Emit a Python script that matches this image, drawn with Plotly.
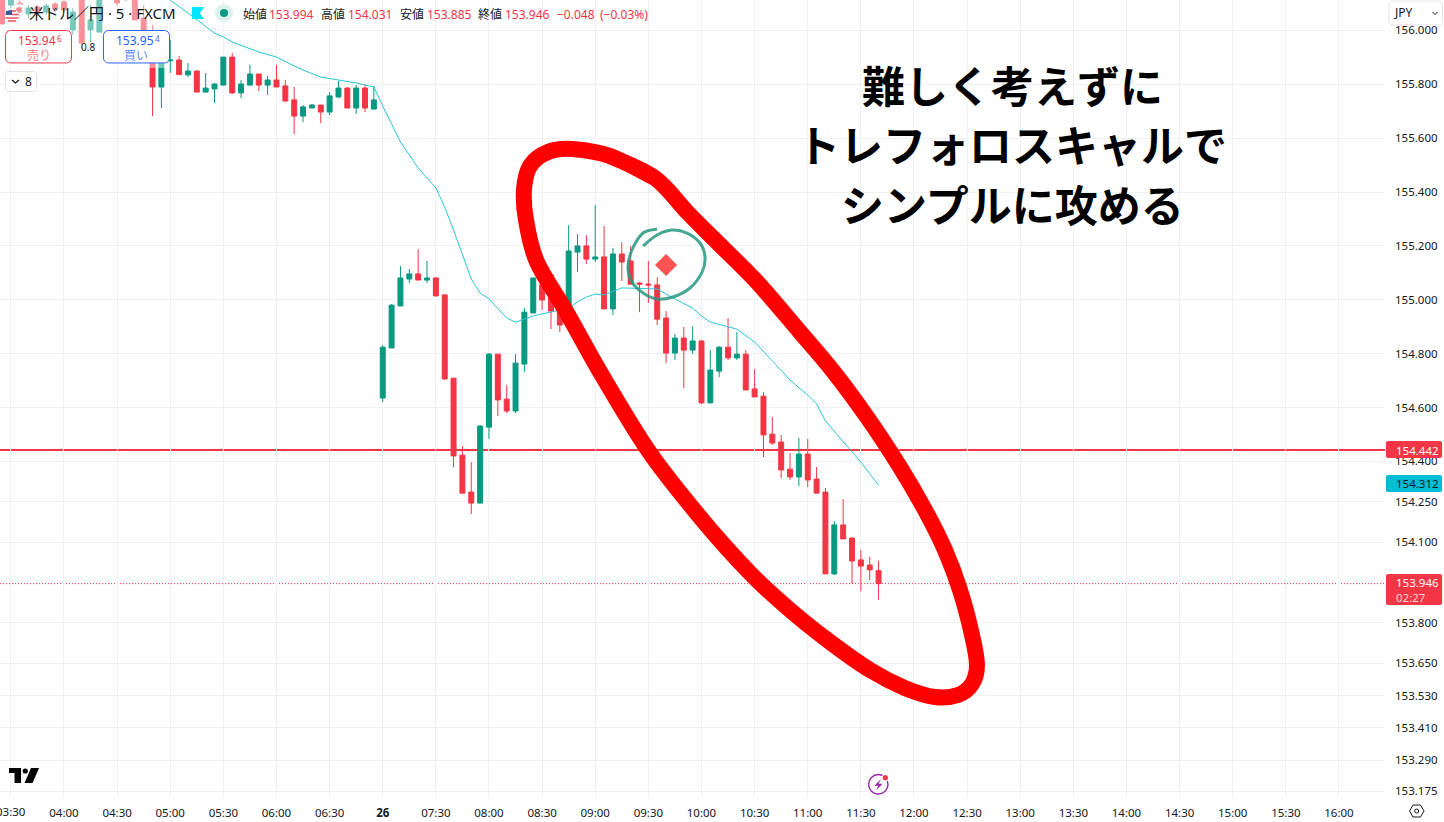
import pandas as pd
import plotly.graph_objects as go

DAY = "2024-07-26 "

# candles, 5 min bars from 03:25 to 11:40
opens = [156.150, 156.094, 156.102, 156.061, 156.087, 156.068, 156.098,
         156.106, 156.002, 156.132, 156.002, 155.994, 156.158, 156.150, 156.124, 156.124, 156.046, 155.927, 155.790,
         155.887, 155.890, 155.835, 155.849, 155.771, 155.783, 155.797, 155.901, 155.768, 155.797, 155.838, 155.797,
         155.816, 155.794, 155.742, 155.682, 155.712, 155.723, 155.697, 155.753, 155.786, 155.712, 155.786, 155.708,
         154.635, 154.821, 154.977, 155.077, 155.096, 155.073, 155.081, 155.018, 154.709, 154.423, 154.286, 154.245,
         154.527, 154.798, 154.631, 154.587, 154.761, 154.951, 155.055, 155.092, 154.999, 154.936, 155.177, 155.200,
         155.151, 155.159, 154.966, 155.170, 155.144, 155.062, 155.058, 155.055, 154.932, 154.802, 154.858, 154.813,
         154.847, 154.617, 154.735, 154.824, 154.784, 154.798, 154.669, 154.642, 154.501, 154.472, 154.371, 154.342,
         154.427, 154.334, 154.286, 153.982, 154.164, 154.115, 154.034, 154.015, 153.994]
highs = [156.187, 156.187, 156.113, 156.094, 156.094, 156.098, 156.106,
         156.113, 156.083, 156.187, 156.094, 156.187, 156.169, 156.169, 156.169, 156.143, 156.094, 156.020, 155.983,
         155.964, 155.905, 155.879, 155.853, 155.842, 155.805, 155.901, 155.916, 155.816, 155.872, 155.838, 155.831,
         155.872, 155.816, 155.790, 155.723, 155.727, 155.723, 155.771, 155.812, 155.790, 155.797, 155.801, 155.794,
         154.832, 154.984, 155.125, 155.114, 155.188, 155.144, 155.084, 155.021, 154.709, 154.457, 154.397, 154.535,
         154.802, 154.798, 154.683, 154.798, 154.969, 155.081, 155.073, 155.092, 155.036, 155.277, 155.244, 155.240,
         155.352, 155.274, 155.192, 155.214, 155.200, 155.066, 155.144, 155.084, 154.958, 154.873, 154.899, 154.902,
         154.850, 154.813, 154.828, 154.932, 154.880, 154.813, 154.743, 154.657, 154.565, 154.498, 154.431, 154.487,
         154.483, 154.379, 154.301, 154.178, 154.260, 154.119, 154.071, 154.045, 154.031]
lows = [156.024, 156.083, 156.061, 156.046, 156.054, 156.057, 156.068,
        156.068, 155.983, 155.931, 155.957, 155.994, 156.120, 156.091, 156.109, 156.039, 155.994, 155.682, 155.712,
        155.842, 155.836, 155.827, 155.771, 155.771, 155.731, 155.797, 155.764, 155.749, 155.797, 155.775, 155.760,
        155.790, 155.734, 155.615, 155.660, 155.712, 155.656, 155.686, 155.749, 155.712, 155.690, 155.697, 155.708,
        154.620, 154.821, 154.977, 155.062, 155.073, 155.062, 155.014, 154.702, 154.379, 154.282, 154.204, 154.245,
        154.483, 154.568, 154.579, 154.579, 154.732, 154.951, 154.962, 154.891, 154.880, 154.917, 155.103, 155.133,
        155.140, 154.966, 154.943, 155.070, 155.058, 154.954, 154.988, 154.906, 154.765, 154.776, 154.672, 154.798,
        154.613, 154.617, 154.713, 154.776, 154.776, 154.665, 154.639, 154.416, 154.461, 154.338, 154.331, 154.308,
        154.305, 154.282, 153.982, 153.978, 154.112, 153.944, 153.918, 153.959, 153.885]
closes = [156.024, 156.169, 156.076, 156.083, 156.065, 156.091, 156.080,
          156.076, 156.068, 155.953, 156.039, 156.132, 156.132, 156.102, 156.150, 156.039, 156.002, 155.790, 155.946,
          155.890, 155.836, 155.849, 155.771, 155.786, 155.801, 155.901, 155.768, 155.801, 155.838, 155.797, 155.816,
          155.790, 155.738, 155.682, 155.716, 155.723, 155.697, 155.757, 155.786, 155.712, 155.786, 155.712, 155.742,
          154.824, 154.980, 155.081, 155.096, 155.073, 155.081, 155.014, 154.706, 154.420, 154.282, 154.245, 154.531,
          154.798, 154.628, 154.587, 154.765, 154.954, 155.081, 154.999, 154.958, 154.906, 155.181, 155.200, 155.151,
          155.159, 154.966, 155.170, 155.140, 155.058, 155.058, 155.055, 154.928, 154.802, 154.858, 154.813, 154.847,
          154.617, 154.739, 154.824, 154.784, 154.798, 154.665, 154.639, 154.498, 154.468, 154.368, 154.342, 154.427,
          154.331, 154.282, 153.982, 154.164, 154.112, 154.030, 154.011, 153.997, 153.946]

# moving average, read at some bars only
ma_times = ["04:55", "05:00", "05:10", "05:15", "05:25", "05:30", "05:35", "05:50", "06:00", "06:10", "06:15",
            "06:25", "06:35", "06:45", "06:55", "07:00", "07:10", "07:20", "07:30", "07:35", "07:40", "07:45",
            "07:50", "07:55", "08:00", "08:10", "08:15", "08:25", "08:35", "08:45", "08:50", "08:55", "09:00",
            "09:05", "09:15", "09:35", "09:45", "09:55", "10:00", "10:05", "10:20", "10:30", "10:40", "10:50",
            "11:00", "11:05", "11:10", "11:20", "11:30", "11:40"]
ma_values = [156.143, 156.113, 156.065, 156.039, 155.990, 155.976, 155.957, 155.920, 155.901, 155.868, 155.853,
             155.827, 155.816, 155.805, 155.790, 155.719, 155.586, 155.489, 155.415, 155.344, 155.259, 155.166,
             155.077, 155.025, 155.003, 154.932, 154.917, 154.940, 154.954, 154.969, 154.992, 155.010, 155.021,
             155.018, 155.044, 155.040, 155.003, 154.969, 154.940, 154.917, 154.891, 154.843, 154.773, 154.702,
             154.646, 154.613, 154.550, 154.475, 154.397, 154.312]

y_ticks = [156.0, 155.8, 155.6, 155.4, 155.2, 155.0, 154.8, 154.6, 154.4, 154.25, 154.1,
           153.8, 153.65, 153.53, 153.41, 153.29, 153.175]
x_ticks = ["03:30", "04:00", "04:30", "05:00", "05:30", "06:00", "06:30", "07:00", "07:30", "08:00", "08:30",
           "09:00", "09:30", "10:00", "10:30", "11:00", "11:30", "12:00", "12:30", "13:00", "13:30", "14:00",
           "14:30", "15:00", "15:30", "16:00"]
x_labels = ["<b>26</b>" if t == "07:00" else t for t in x_ticks]

line_price = 154.442
ma_last = 154.312
last_price = 153.946
signal_time = "09:40"
signal_price = 155.129

RED = "#f23645"
GREEN = "#089981"
BLUE = "#2962ff"
INK = "#131722"
GRID = "#f0f1f3"
FONT = "'Noto Sans', 'Noto Sans CJK JP', sans-serif"
JP_BOLD = "'Noto Sans CJK JP', sans-serif"

PLOT_W = 1385
PLOT_H = 798


def px(x):
    return x / PLOT_W


def py(y):
    return 1 - y / PLOT_H


def smooth_path(points):
    # catmull-rom through the hand traced points
    d = "M%.4f,%.4f" % (px(points[0][0]), py(points[0][1]))
    for i in range(len(points) - 1):
        p0 = points[max(i - 1, 0)]
        p1 = points[i]
        p2 = points[i + 1]
        p3 = points[min(i + 2, len(points) - 1)]
        c1 = (p1[0] + (p2[0] - p0[0]) / 6, p1[1] + (p2[1] - p0[1]) / 6)
        c2 = (p2[0] - (p3[0] - p1[0]) / 6, p2[1] - (p3[1] - p1[1]) / 6)
        d += " C%.4f,%.4f %.4f,%.4f %.4f,%.4f" % (px(c1[0]), py(c1[1]), px(c2[0]), py(c2[1]), px(p2[0]), py(p2[1]))
    return d


def poly_path(points, close=True):
    d = "M" + " L".join("%.4f,%.4f" % (px(a), py(b)) for a, b in points)
    return d + (" Z" if close else "")


def round_rect(x0, y0, x1, y1, r):
    k = r * 0.45
    return smooth_free([
        ("M", x0 + r, y0), ("L", x1 - r, y0), ("C", x1 - k, y0, x1, y0 + k, x1, y0 + r),
        ("L", x1, y1 - r), ("C", x1, y1 - k, x1 - k, y1, x1 - r, y1),
        ("L", x0 + r, y1), ("C", x0 + k, y1, x0, y1 - k, x0, y1 - r),
        ("L", x0, y0 + r), ("C", x0, y0 + k, x0 + k, y0, x0 + r, y0),
    ])


def smooth_free(cmds):
    d = ""
    for c in cmds:
        vals = c[1:]
        pairs = ["%.4f,%.4f" % (px(vals[i]), py(vals[i + 1])) for i in range(0, len(vals), 2)]
        d += c[0] + " ".join(pairs) + " "
    return d + "Z"


shapes = []
annotations = []


def path_shape(path, fill="rgba(0,0,0,0)", line="rgba(0,0,0,0)", width=0):
    shapes.append(dict(type="path", path=path, xref="paper", yref="paper", layer="above",
                       fillcolor=fill, line=dict(color=line, width=width)))


def circle(cx, cy, r, fill="rgba(0,0,0,0)", line="rgba(0,0,0,0)", width=0):
    shapes.append(dict(type="circle", xref="paper", yref="paper", layer="above",
                       x0=px(cx - r), x1=px(cx + r), y0=py(cy + r), y1=py(cy - r),
                       fillcolor=fill, line=dict(color=line, width=width)))


def label(x, y, text, size=12, color=INK, anchor="left", family=FONT):
    annotations.append(dict(x=px(x), y=py(y), xref="paper", yref="paper", text=text, showarrow=False,
                            xanchor=anchor, yanchor="middle", borderpad=0,
                            font=dict(size=size, color=color, family=family)))


# faded bars under the header
path_shape(poly_path([(0, 0), (168, 0), (168, 68), (0, 68)]), fill="rgba(255,255,255,0.45)")

# big red ring
ring = [(610, 156), (655, 178), (688, 213), (720, 245), (757, 282), (800, 332), (833, 371), (867, 417),
        (900, 467), (925, 510), (945, 550), (960, 590), (972, 635), (977, 665), (972, 684), (958, 695), (935, 697),
        (905, 688), (870, 670), (830, 642), (790, 610), (750, 573), (700, 517), (650, 453), (603, 377), (567, 313),
        (537, 262), (526, 220), (524, 190), (530, 166), (548, 152), (572, 149), (610, 156), (655, 178)]
path_shape(smooth_path(ring), line="#ff0000", width=16)

# green hand drawn circle round the signal
swirl = [(657, 229), (643, 233), (632, 250), (628, 267), (632, 282), (643, 293), (657, 299), (673, 297), (690, 288),
         (702, 272), (705, 257), (700, 243), (687, 233), (672, 230), (657, 235), (643, 246)]
path_shape(smooth_path(swirl), line="rgba(38,153,128,0.85)", width=3)

# right side price tags
path_shape(round_rect(1386, 441, 1442, 458, 2), fill=RED)
path_shape(round_rect(1386, 475, 1442, 492, 2), fill="#00bcd4")
path_shape(round_rect(1386, 574, 1442, 605, 2), fill=RED)
label(1394.5, 450, "%.3f" % line_price, 11.5, "#ffffff")
label(1394.5, 483.5, "%.3f" % ma_last, 11.5, INK)
label(1394.5, 582.5, "%.3f" % last_price, 11.5, "#ffffff")
label(1394.5, 597, "02:27", 11.5, "#ffd7db")

# JPY box
path_shape(round_rect(1389, 1, 1442.5, 25, 4), fill="#ffffff", line="#e0e3eb", width=1)
label(1393, 13, "JPY", 12)
path_shape(poly_path([(1432.5, 12), (1435, 14.5), (1437.5, 12)], close=False), line=INK, width=1)

# settings hexagon
path_shape(poly_path([(1409.5, 811), (1413, 805), (1420.5, 805), (1424, 811), (1420.5, 817), (1413, 817)]),
           line=INK, width=1)
circle(1416.7, 811, 2, line=INK, width=1)

# tv logo
path_shape(poly_path([(9, 768), (21, 768), (21, 783), (14.5, 783), (14.5, 773), (9, 773)]), fill="#000000")
circle(25.3, 771, 2.6, fill="#000000")
path_shape(poly_path([(31, 768), (39, 768), (32.5, 783), (24.5, 783)]), fill="#000000")

# lightning badge
circle(878.3, 784.3, 9.7, line="#9c27b0", width=1.5)
path_shape(poly_path([(881, 779), (874.5, 785.8), (878.3, 785.8), (876, 790.5), (882.5, 783.6), (878.6, 783.6)]),
           fill="#9c27b0")
circle(885.3, 777.7, 3.6, fill="#ffffff")
circle(885.3, 777.7, 2.6, fill=RED)

# header icons
circle(19, 10, 6, fill="#ffffff", line="#e6e6e6", width=1)
circle(19, 10, 3, fill="#f28b96")
circle(12, 16, 7, fill="#ffffff")
for sy, sx0, sx1 in [(11, 9, 16), (14.5, 12, 19), (18, 5.5, 18.5), (21, 8, 16)]:
    path_shape(poly_path([(sx0, sy), (sx1, sy)], close=False), line="#ef5a6a", width=1.6)
path_shape(poly_path([(6, 11), (12, 10), (12, 15), (5.5, 15)]), fill="#3d5a98")
path_shape(poly_path([(192, 7), (204, 7), (200, 13), (204, 19), (192, 19)]), fill="#00e5ff")
circle(224, 13, 9, fill="#dcf1ec")
circle(224, 13, 4, fill=GREEN)

# order boxes
path_shape(round_rect(5.5, 30.5, 71.5, 63, 5), fill="#ffffff", line=RED, width=1)
path_shape(round_rect(103.5, 30.5, 169.5, 63, 5), fill="#ffffff", line=BLUE, width=1)
path_shape(round_rect(5.5, 71.5, 36.5, 91.5, 3), fill="#ffffff", line="#e0e3eb", width=1)
path_shape(poly_path([(12, 80), (15.5, 83), (19, 80)], close=False), line=INK, width=1.2)

label(17, 40, "153.94", 12, RED)
label(55.5, 38, "6", 8, RED)
label(39, 55, "売り", 12, "#f77c80", "center")
label(115, 40, "153.95", 12, BLUE)
label(153.5, 38, "4", 8, BLUE)
label(136, 55, "買い", 12, "#5b89ff", "center")
label(87.5, 46.5, "0.8", 10, INK, "center")
label(24, 81.5, "8", 12, INK)

# header text
label(28, 13, "米ドル／円 · 5 · FXCM", 15)
header_items = [(241.5, "始値", INK), (268.3, "153.994", RED), (320, "高値", INK), (346.7, "154.031", RED),
                (398.7, "安値", INK), (425.7, "153.885", RED), (477.3, "終値", INK), (504.3, "153.946", RED),
                (555.7, "−0.048", RED), (599.3, "(−0.03%)", RED)]
for hx, ht, hc in header_items:
    label(hx, 14.5, ht, 12, hc)

# big caption
label(1012.5, 84, "<b>難しく考えずに</b>", 43, "#000000", "center", JP_BOLD)
label(1012.5, 143, "<b>トレフォロスキャルで</b>", 43, "#000000", "center", JP_BOLD)
label(1012.5, 203, "<b>シンプルに攻める</b>", 43, "#000000", "center", JP_BOLD)

# plotly drops the first time label because it hangs over the page edge
label(11, 811, x_labels[0], 11.5, INK, "center")

# price lines stay behind the bars
shapes.append(dict(type="line", xref="paper", yref="y", x0=0, x1=1, y0=line_price, y1=line_price, layer="below",
                   line=dict(color=RED, width=2)))
shapes.append(dict(type="line", xref="paper", yref="y", x0=0, x1=1, y0=last_price, y1=last_price, layer="below",
                   line=dict(color=RED, width=1, dash="1px,2px")))

times = pd.date_range(DAY + "03:25", periods=len(opens), freq="5min")

fig = go.Figure()
fig.add_trace(go.Candlestick(x=times, open=opens, high=highs, low=lows, close=closes, whiskerwidth=0,
                             increasing=dict(line=dict(color=GREEN, width=1), fillcolor=GREEN),
                             decreasing=dict(line=dict(color=RED, width=1), fillcolor=RED),
                             hoverinfo="skip", showlegend=False))
fig.add_trace(go.Scatter(x=[DAY + t for t in ma_times], y=ma_values, mode="lines",
                         line=dict(color="#26c6da", width=1), hoverinfo="skip", showlegend=False))
fig.add_trace(go.Scatter(x=[DAY + signal_time], y=[signal_price], mode="markers",
                         marker=dict(symbol="diamond", size=17, color="#ff5252"),
                         hoverinfo="skip", showlegend=False))

fig.update_layout(
    width=1444, height=822,
    margin=dict(l=0, r=59, t=0, b=24),
    paper_bgcolor="#ffffff", plot_bgcolor="#ffffff",
    font=dict(family=FONT, size=11.5, color=INK),
    boxgap=0.2,
    shapes=shapes, annotations=annotations,
    showlegend=False,
    xaxis=dict(type="date", range=[DAY + "03:23:52", DAY + "16:25:59"], rangeslider=dict(visible=False),
               tickmode="array", tickvals=[DAY + t for t in x_ticks], ticktext=x_labels,
               showgrid=True, gridcolor=GRID, gridwidth=1, zeroline=False, showline=False, ticks="",
               tickangle=0, tickfont=dict(size=11.5, color=INK), ticklabelstandoff=6),
    yaxis=dict(side="right", range=[153.150, 156.113], tickmode="array", tickvals=y_ticks,
               ticktext=["%.3f" % v for v in y_ticks],
               showgrid=True, gridcolor=GRID, gridwidth=1, zeroline=False, showline=False, ticks="",
               tickfont=dict(size=11.5, color=INK), ticklabelstandoff=9),
)

fig.write_html("out.html", config=dict(displayModeBar=False),
               post_script="document.body.style.margin='0';")
